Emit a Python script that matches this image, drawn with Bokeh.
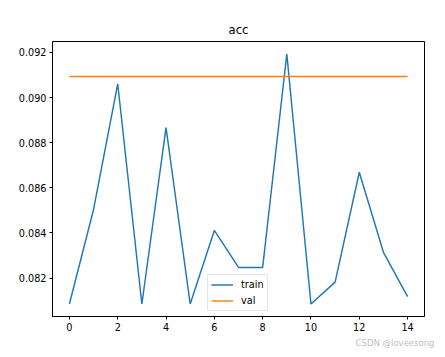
from bokeh.plotting import figure
from bokeh.models import FixedTicker, PrintfTickFormatter, Range1d, Title, Legend, LegendItem
from bokeh.embed import file_html
from bokeh.resources import INLINE

epochs = list(range(15))
train_acc = [0.08085, 0.08504, 0.09061, 0.08085, 0.08867, 0.08085, 0.08411,
             0.08247, 0.08247, 0.09193, 0.08085, 0.08182, 0.08669, 0.08314, 0.08118]
val_acc = [0.09093] * 15
x_ticks = [0, 2, 4, 6, 8, 10, 12, 14]
y_ticks = [0.082, 0.084, 0.086, 0.088, 0.090, 0.092]
title_text = "acc"
labels = ["train", "val"]
watermark = "CSDN @loveesong"

xmin, xmax = min(epochs), max(epochs)
xm = (xmax - xmin) * 0.05
allv = train_acc + val_acc
ymin, ymax = min(allv), max(allv)
ym = (ymax - ymin) * 0.05

FONT = "DejaVu Sans"

p = figure(width=437, height=349, output_backend="svg", toolbar_location=None,
           x_range=Range1d(xmin - xm, xmax + xm), y_range=Range1d(ymin - ym, ymax + ym),
           min_border_left=52, min_border_right=13, min_border_top=41, min_border_bottom=32,
           title=title_text)

p.title.align = "center"
p.title.text_font = FONT
p.title.text_font_size = "11.6px"
p.title.text_font_style = "normal"
p.title.text_color = "black"
p.title.standoff = 9

p.xgrid.visible = False
p.ygrid.visible = False
p.outline_line_color = "black"
p.outline_line_width = 1
p.outline_line_alpha = 1

for ax in (p.xaxis[0], p.yaxis[0]):
    ax.axis_line_color = "black"
    ax.major_tick_line_color = "black"
    ax.major_tick_out = 3
    ax.major_tick_in = 0
    ax.minor_tick_line_color = None
    ax.major_label_text_font = FONT
    ax.major_label_text_font_size = "9.7px"
    ax.major_label_text_color = "black"
    ax.major_label_standoff = 3

p.xaxis[0].ticker = FixedTicker(ticks=x_ticks)
p.yaxis[0].ticker = FixedTicker(ticks=y_ticks)
p.yaxis[0].formatter = PrintfTickFormatter(format="%.3f")

r1 = p.line(epochs, train_acc, line_color="#1f77b4", line_width=1.45)
r2 = p.line(epochs, val_acc, line_color="#ff7f0e", line_width=1.45)

legend = Legend(items=[LegendItem(label=labels[0], renderers=[r1]),
                       LegendItem(label=labels[1], renderers=[r2])],
                location=(155, 5))
legend.border_line_color = "#cccccc"
legend.border_line_width = 1
legend.background_fill_color = "white"
legend.background_fill_alpha = 0.8
legend.label_text_font = FONT
legend.label_text_font_size = "9.7px"
legend.label_text_color = "black"
legend.glyph_width = 22
legend.glyph_height = 13
legend.label_height = 13
legend.label_standoff = 8
legend.padding = 3
legend.spacing = 3
legend.margin = 0
p.add_layout(legend)

wm = Title(text=watermark, align="right", offset=-10, standoff=4,
           text_font=FONT, text_font_size="8.5px", text_font_style="normal",
           text_color="#c0c0c0")
p.add_layout(wm, "below")

open("out.html", "w").write(file_html(p, INLINE))
